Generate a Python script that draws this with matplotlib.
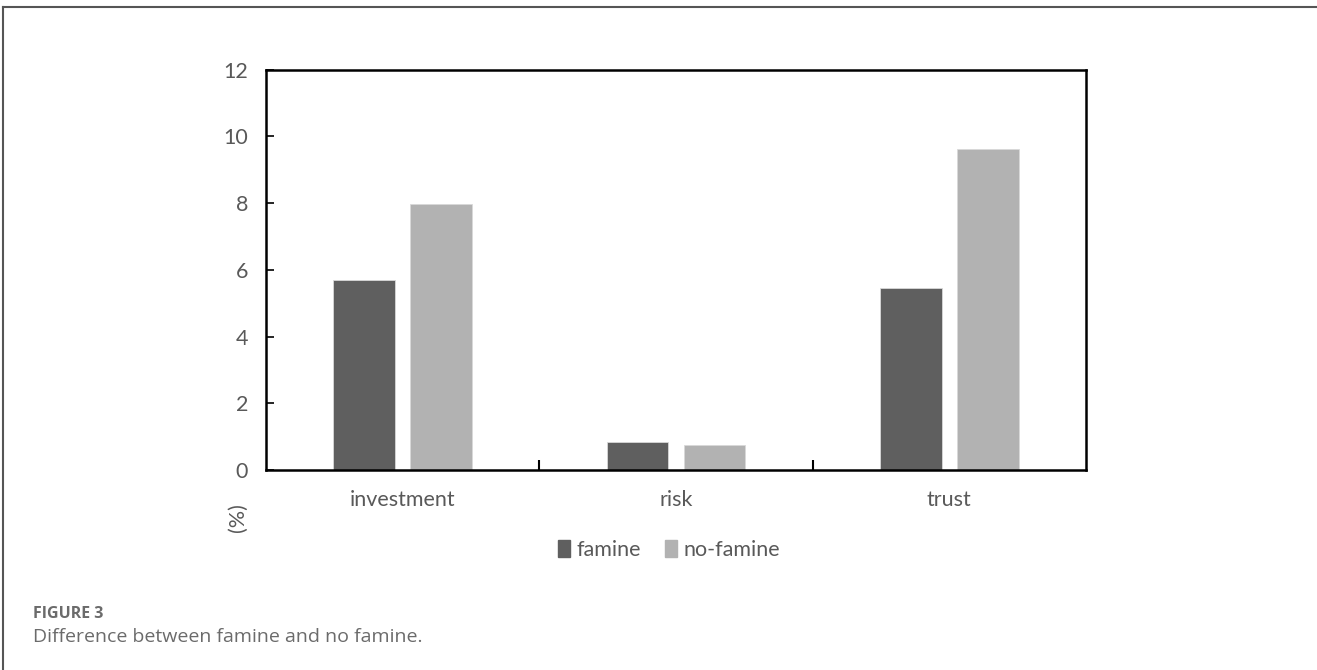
import numpy as np
import matplotlib.pyplot as plt
from matplotlib.lines import Line2D
from matplotlib.patches import Patch

categories = ["investment", "risk", "trust"]
famine = [5.69, 0.85, 5.47]
no_famine = [7.96, 0.74, 9.61]
yticks = [0, 2, 4, 6, 8, 10, 12]

plt.rcParams["font.family"] = ["Lato", "DejaVu Sans"]

fig = plt.figure(figsize=(13.17, 6.70), dpi=100)
ax = fig.add_axes([0.202, 0.2985, 0.6226, 0.5975])

x = np.arange(len(categories))
w = 0.226
off = 0.141
c_dark = "#5f5f5f"
c_light = "#b2b2b2"
ax.bar(x - off, famine, w, color=c_dark, edgecolor="#d9d9d9", linewidth=0.6)
ax.bar(x + off, no_famine, w, color=c_light, edgecolor="#d9d9d9", linewidth=0.6)

ax.set_xlim(-0.5, 2.5)
ax.set_ylim(0, 12)
ax.set_yticks(yticks)
ax.set_xticks([0.5, 1.5])
ax.set_xticklabels([])
ax.tick_params(axis="y", direction="in", length=6, width=1.2, labelsize=15.5,
               labelcolor="#595959", pad=13)
ax.tick_params(axis="x", direction="in", length=7, width=1.5)
for s in ax.spines.values():
    s.set_linewidth(1.8)
    s.set_color("black")

# category labels sit between the boundary ticks
for i, c in enumerate(categories):
    ax.text(i, -0.9, c, ha="center", va="center", fontsize=15.5,
            color="#595959", transform=ax.transData)

fig.text(238 / 1317, 1 - 518 / 670, "(%)", rotation=90, ha="center",
         va="center", fontsize=15.5, color="#595959")

handles = [Patch(color=c_dark, label="famine"),
           Patch(color=c_light, label="no-famine")]
leg = fig.legend(handles=handles, loc="center", ncol=2, frameon=False,
                 bbox_to_anchor=(669 / 1317, 1 - 550 / 670), fontsize=15.5,
                 handlelength=0.55, handleheight=0.85, handletextpad=0.3,
                 columnspacing=1.1)
for t in leg.get_texts():
    t.set_color("#595959")

# page frame
fig.add_artist(Line2D([3 / 1317, 1], [1 - 7 / 670, 1 - 7 / 670],
                      transform=fig.transFigure, color="#555555", lw=1.5))
fig.add_artist(Line2D([3 / 1317, 3 / 1317], [0, 1 - 7 / 670],
                      transform=fig.transFigure, color="#555555", lw=1.5))

fig.text(33 / 1317, 1 - 614 / 670, "FIGURE 3", fontsize=11.5, color="#6b6b6b",
         fontweight="bold", va="center", family=["Open Sans", "DejaVu Sans"])
fig.text(33 / 1317, 1 - 637 / 670, "Difference between famine and no famine.",
         fontsize=14, color="#6b6b6b", va="center",
         family=["Open Sans", "DejaVu Sans"])

plt.savefig("out.png", dpi=100)
